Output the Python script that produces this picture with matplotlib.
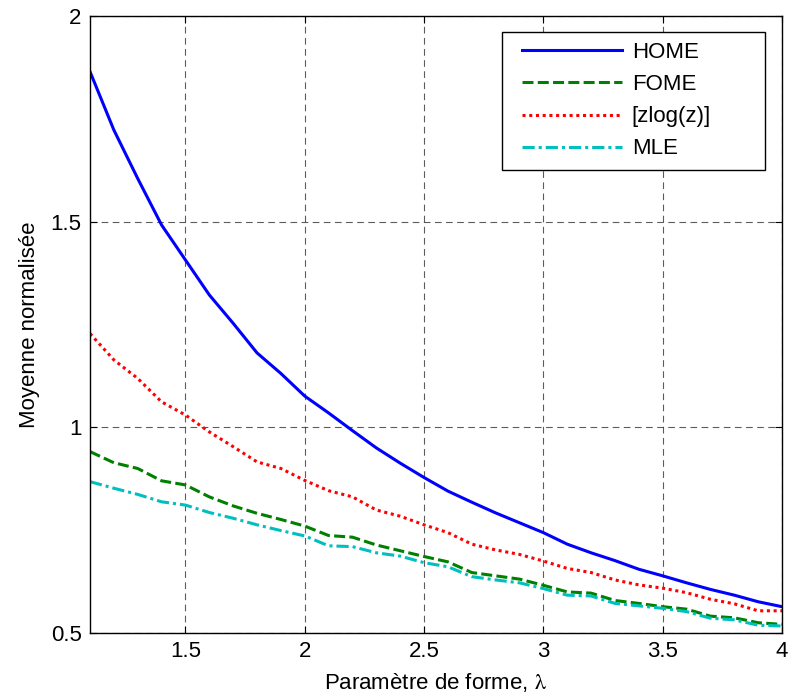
import numpy as np
import matplotlib
matplotlib.use('Agg')
import matplotlib.pyplot as plt
from matplotlib.patches import Rectangle

plt.rcParams['font.family'] = ['Liberation Sans', 'DejaVu Sans']
plt.rcParams['mathtext.fontset'] = 'stix'

# parametre de forme
lam = [1.1, 1.2, 1.3, 1.4, 1.5, 1.6, 1.7, 1.8, 1.9, 2.0,
       2.1, 2.2, 2.3, 2.4, 2.5, 2.6, 2.7, 2.8, 2.9, 3.0,
       3.1, 3.2, 3.3, 3.4, 3.5, 3.6, 3.7, 3.8, 3.9, 4.0]

home = [1.865, 1.723, 1.605, 1.492, 1.407, 1.322, 1.253, 1.181, 1.131, 1.076,
        1.035, 0.992, 0.950, 0.913, 0.878, 0.845, 0.818, 0.792, 0.768, 0.744,
        0.716, 0.695, 0.676, 0.655, 0.639, 0.622, 0.606, 0.592, 0.576, 0.564]

fome = [0.941, 0.914, 0.900, 0.870, 0.860, 0.831, 0.809, 0.791, 0.776, 0.760,
        0.737, 0.733, 0.714, 0.700, 0.686, 0.673, 0.647, 0.639, 0.631, 0.616,
        0.600, 0.597, 0.579, 0.572, 0.564, 0.558, 0.541, 0.537, 0.525, 0.521]

zlogz = [1.228, 1.164, 1.119, 1.062, 1.030, 0.989, 0.953, 0.916, 0.900, 0.871,
         0.846, 0.831, 0.799, 0.784, 0.763, 0.744, 0.716, 0.702, 0.691, 0.675,
         0.657, 0.647, 0.629, 0.617, 0.609, 0.598, 0.582, 0.571, 0.554, 0.554]

mle = [0.868, 0.852, 0.837, 0.819, 0.811, 0.793, 0.779, 0.763, 0.749, 0.736,
       0.712, 0.710, 0.695, 0.687, 0.671, 0.661, 0.637, 0.629, 0.622, 0.608,
       0.592, 0.590, 0.572, 0.566, 0.560, 0.552, 0.536, 0.532, 0.519, 0.517]

fig = plt.figure(figsize=(7.9, 7.0), dpi=100)
ax = fig.add_axes([0.1139, 0.0957, 0.876, 0.8814])

ax.plot(lam, home, color='#0000ff', lw=2.2, label='HOME')
ax.plot(lam, fome, color='#008000', lw=2.2, dashes=(3.6, 1.4), label='FOME')
ax.plot(lam, zlogz, color='#ff0000', lw=2.2, dashes=(1, 1.2), label='[zlog(z)]')
ax.plot(lam, mle, color='#00bfbf', lw=2.2, dashes=(4, 1.3, 1, 1.3), label='MLE')

ax.set_xlim(1.1, 4)
ax.set_ylim(0.5, 2)
ax.set_xticks([1.5, 2, 2.5, 3, 3.5, 4])
ax.set_xticklabels(['1.5', '2', '2.5', '3', '3.5', '4'])
ax.set_yticks([0.5, 1, 1.5, 2])
ax.set_yticklabels(['0.5', '1', '1.5', '2'])
ax.tick_params(direction='in', top=True, right=True, labelsize=16, length=5, width=0.8, pad=6)
ax.grid(True, color='#333333', linestyle=(0, (6, 4)), lw=0.8, alpha=0.8)
for s in ax.spines.values():
    s.set_linewidth(1.0)

ax.set_xlabel(r'Paramètre de forme, $\mathrm{\lambda}$', fontsize=16, labelpad=6)
ax.set_ylabel('Moyenne normalisée', fontsize=16, labelpad=8)

# legend box drawn separately so the entries keep a wide right margin
ax.add_patch(Rectangle((0.595, 0.750), 0.38, 0.224, transform=ax.transAxes,
                       facecolor='white', edgecolor='black', lw=1.0, zorder=4))
leg = ax.legend(loc='upper left', bbox_to_anchor=(0.6095, 0.974), frameon=False,
                fontsize=16, handlelength=4.5, handletextpad=0.45,
                borderpad=0.45, labelspacing=0.5, borderaxespad=0)
leg.set_zorder(5)

fig.savefig('out.png', dpi=100)
